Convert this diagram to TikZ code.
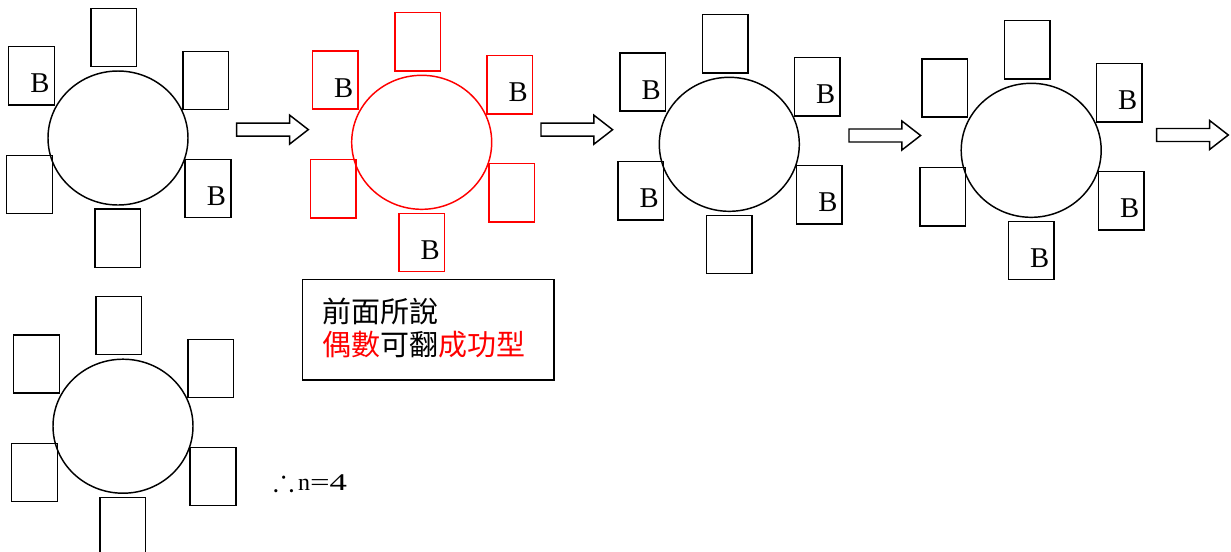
\documentclass[tikz,border=0pt]{standalone}
\usepackage{fontspec}
\usepackage{amssymb}
\setmainfont{Liberation Serif}
\newfontfamily\cjk{Noto Sans CJK TC}
\usetikzlibrary{shapes.geometric,calc}
\definecolor{pred}{RGB}{255,0,0}
\tikzset{
  seat/.style={draw, rectangle, minimum width=34.2pt, minimum height=43.65pt, inner sep=0pt, line width=1.1pt},
  tablec/.style={draw, ellipse, minimum width=105pt, minimum height=100.5pt, inner sep=0pt, line width=1.1pt},
  blabel/.style={inner sep=0pt, font=\fontsize{21.5}{24}\selectfont},
  barrow/.style={draw, line width=1.1pt, line join=miter},
  notebox/.style={draw, line width=1.1pt, minimum width=188.8pt, minimum height=75.5pt, inner sep=0pt},
  notetext/.style={inner sep=0pt, align=left, font=\cjk\fontsize{21.75}{25.1}\selectfont},
  restext/.style={inner sep=0pt, font=\fontsize{18}{22}\selectfont},
}
\newcommand\drawgroup[4]{%
  \node[tablec, draw=#4] (#1c) at (#2,#3) {};
  \node[seat, draw=#4] (#1t)  at ($(#1c)+(-4.1,-100.6)$) {};
  \node[seat, draw=#4] (#1tl) at ($(#1c)+(-86.5,-62.3)$) {};
  \node[seat, draw=#4] (#1tr) at ($(#1c)+(87.9,-57.6)$) {};
  \node[seat, draw=#4] (#1bl) at ($(#1c)+(-88.5,46.4)$) {};
  \node[seat, draw=#4] (#1br) at ($(#1c)+(90,50.4)$) {};
  \node[seat, draw=#4] (#1b)  at ($(#1c)+(-0.1,100.3)$) {};
}
\newcommand\mylabelB[1]{\node[blabel] (#1B) at ($(#1)+(8.5,7.8)$) {B};}
\newcommand\blockarrow[1]{%
  \draw[barrow, shift={(#1)}] (0,-6.5) -- (52.9,-6.5) -- (52.9,-14.5) -- (71.6,0)
    -- (52.9,14.5) -- (52.9,6.5) -- (0,6.5) -- cycle;}
\begin{document}
\begin{tikzpicture}[x=0.75pt,y=-0.75pt]
\clip (0,0) rectangle (1231,551);
% groups
\drawgroup{ga}{118}{138}{black}
\drawgroup{gb}{421.7}{142.3}{pred}
\drawgroup{gc}{729.3}{144.3}{black}
\drawgroup{gd}{1031.2}{150.3}{black}
\drawgroup{ge}{123}{426.2}{black}
% B labels
\mylabelB{gatl}\mylabelB{gabr}
\mylabelB{gbtl}\mylabelB{gbtr}\mylabelB{gbb}
\mylabelB{gctl}\mylabelB{gctr}\mylabelB{gcbl}\mylabelB{gcbr}
\mylabelB{gdtr}\mylabelB{gdbr}\mylabelB{gdb}
% arrows
\coordinate (a1) at (236.7,129.6);
\coordinate (a2) at (541,129.7);
\coordinate (a3) at (849,135.5);
\coordinate (a4) at (1156.7,135);
\blockarrow{a1}\blockarrow{a2}\blockarrow{a3}\blockarrow{a4}
% note
\node[notebox] (note) at (428.15,329.65) {};
\node[notetext, anchor=west] (notetxt) at (321.8,327.75)
  {前面所說\\{\color{pred}偶數}可翻{\color{pred}成功型}};
% result
\node[restext, anchor=base west] (res) at (273,490)
  {\scalebox{1.3}{$\therefore$}\hspace{3pt}n\scalebox{1.45}[1]{=4}};
\end{tikzpicture}
\end{document}
